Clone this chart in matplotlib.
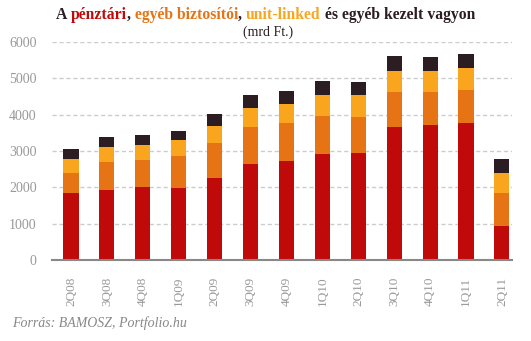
import numpy as np
import matplotlib
matplotlib.use("Agg")
import matplotlib.pyplot as plt

# quarters and stacked values (mrd Ft.)
quarters = ['2Q08', '3Q08', '4Q08', '1Q09', '2Q09', '3Q09', '4Q09',
            '1Q10', '2Q10', '3Q10', '4Q10', '1Q11', '2Q11']
penztari = [1850, 1930, 2010, 1985, 2260, 2645, 2730, 2920, 2950, 3665, 3720, 3775, 940]
biztositoi = [550, 770, 745, 880, 960, 1020, 1045, 1045, 990, 965, 910, 910, 905]
unit_linked = [385, 410, 410, 440, 470, 520, 525, 580, 605, 580, 580, 605, 550]
egyeb = [275, 275, 275, 245, 330, 355, 360, 385, 360, 410, 385, 385, 385]

colors = ['#c00a0a', '#e67314', '#f9a61e', '#2b1d22']
gray = '#999999'

fig = plt.figure(figsize=(5.31, 3.41), dpi=100)
ax = fig.add_axes([52 / 531, 1 - 260 / 341, 460 / 531, 218 / 341])

x = np.arange(len(quarters))
bottom = np.zeros(len(quarters))
for vals, c in zip([penztari, biztositoi, unit_linked, egyeb], colors):
    ax.bar(x, vals, width=0.42, bottom=bottom, color=c, zorder=3)
    bottom += np.array(vals)

ax.set_xlim(-0.53, 12.28)
ax.set_ylim(0, 6000)
ax.set_yticks(range(0, 6001, 1000))
ax.yaxis.grid(True, linestyle=(0, (3, 2)), color='#cccccc', linewidth=1, zorder=0)
for s in ['top', 'right', 'left']:
    ax.spines[s].set_visible(False)
ax.spines['bottom'].set_color('#888888')
ax.spines['bottom'].set_linewidth(1.5)
ax.spines['bottom'].set_zorder(4)
ax.tick_params(axis='both', length=0, colors=gray, labelsize=10)
ax.tick_params(axis='y', pad=11)
ax.set_xticks(x)
ax.set_xticklabels(quarters, rotation=90, family='Liberation Serif')
for lab in ax.get_yticklabels():
    lab.set_family('Liberation Serif')
ax.tick_params(axis='x', pad=12, labelsize=9.5)

# multi-coloured title
pieces = [('A ', '#2b1d22'), ('pénztári', colors[0]), (', ', '#2b1d22'),
          ('egyéb biztosítói', colors[1]), (', ', '#2b1d22'),
          ('unit-linked', colors[2]), (' és egyéb kezelt vagyon', '#2b1d22')]
renderer = fig.canvas.get_renderer()
texts = []
widths = []
for s, c in pieces:
    t = fig.text(0, 1 - 19 / 341, s, color=c, fontsize=11.3, fontweight='bold',
                 family='Liberation Serif', va='baseline', ha='left')
    widths.append(t.get_window_extent(renderer).width)
    texts.append(t)
total = sum(widths)
xpos = (265.5 - total / 2)
for t, w in zip(texts, widths):
    t.set_x(xpos / 531)
    xpos += w

fig.text(268 / 531, 1 - 32 / 341, '(mrd Ft.)', fontsize=10, color='#2b1d22',
         family='Liberation Serif', ha='center', va='center')

fig.text(12 / 531, 1 - 323 / 341, 'Forrás: BAMOSZ, Portfolio.hu', fontsize=10,
         color='#888888', style='italic', family='Liberation Serif', va='center')

fig.savefig('out.png', dpi=100)
